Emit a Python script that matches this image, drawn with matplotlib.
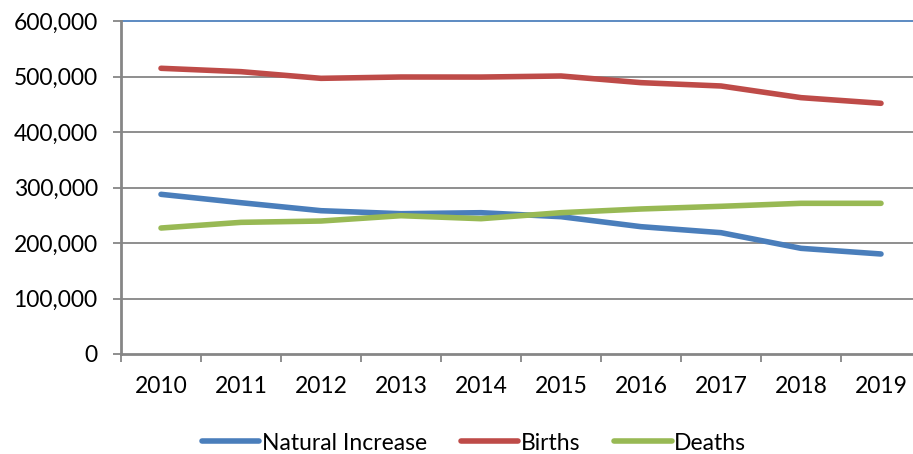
import numpy as np
import matplotlib.pyplot as plt
from matplotlib.ticker import FuncFormatter, FixedLocator

# данные с картинки (оценка по пикселям)
years = ['2010', '2011', '2012', '2013', '2014', '2015', '2016', '2017', '2018', '2019']
natural_increase = [287700, 272600, 258200, 252800, 254600, 247400, 229400, 218600, 190400, 180200]
births = [514800, 508700, 496700, 499100, 499000, 500900, 488900, 482900, 461900, 451700]
deaths = [227000, 237200, 239600, 249200, 243800, 254600, 261300, 266100, 271500, 271500]

series_names = ['Natural Increase', 'Births', 'Deaths']
series_colors = ['#4A7EBB', '#BE4B48', '#98B954']
y_ticks = [0, 100000, 200000, 300000, 400000, 500000, 600000]


def main():
    plt.rcParams['font.family'] = ['Lato', 'DejaVu Sans']
    grey = '#868686'
    fs = 16.5

    fig = plt.figure(figsize=(9.13, 4.54), dpi=100)
    # правый край оси выходит за пределы картинки, как в оригинале
    ax = fig.add_axes([121 / 913, 100 / 454, 800 / 913, 333 / 454])

    x = np.arange(len(years))
    for vals, name, col in zip([natural_increase, births, deaths], series_names, series_colors):
        ax.plot(x, vals, color=col, lw=4, solid_capstyle='round', label=name, zorder=3)

    ax.set_xlim(-0.5, len(years) - 0.5)
    ax.set_ylim(0, 600000)

    ax.yaxis.set_major_locator(FixedLocator(y_ticks))
    ax.yaxis.set_major_formatter(FuncFormatter(lambda v, p: f'{int(v):,}'))
    for t in y_ticks[1:-1]:
        ax.axhline(t, color=grey, lw=1.3, zorder=1)
    ax.axhline(600000, color='#4F81BD', lw=1.3, zorder=1, clip_on=False)

    # подписи годов по центру, засечки на границах категорий
    ax.set_xticks(x)
    ax.set_xticklabels(years)
    ax.set_xticks(np.arange(-0.5, len(years) + 0.5, 1), minor=True)
    ax.tick_params(axis='x', which='major', length=0, pad=16, labelsize=fs)
    ax.tick_params(axis='x', which='minor', length=5.5, width=1.3, color=grey, direction='out')
    ax.tick_params(axis='y', length=5.8, width=1.3, color=grey, pad=11, labelsize=fs)

    for side in ['top', 'right']:
        ax.spines[side].set_visible(False)
    for side in ['left', 'bottom']:
        ax.spines[side].set_color(grey)
        ax.spines[side].set_linewidth(2)

    leg = fig.legend(loc='center', bbox_to_anchor=(474 / 913, 1 - 443 / 454), ncol=3,
                     frameon=False, fontsize=fs, handlelength=2.5, handletextpad=0.1,
                     columnspacing=1.5)
    for line in leg.get_lines():
        line.set_linewidth(4)

    fig.savefig('out.png', dpi=100)


if __name__ == '__main__':
    main()
